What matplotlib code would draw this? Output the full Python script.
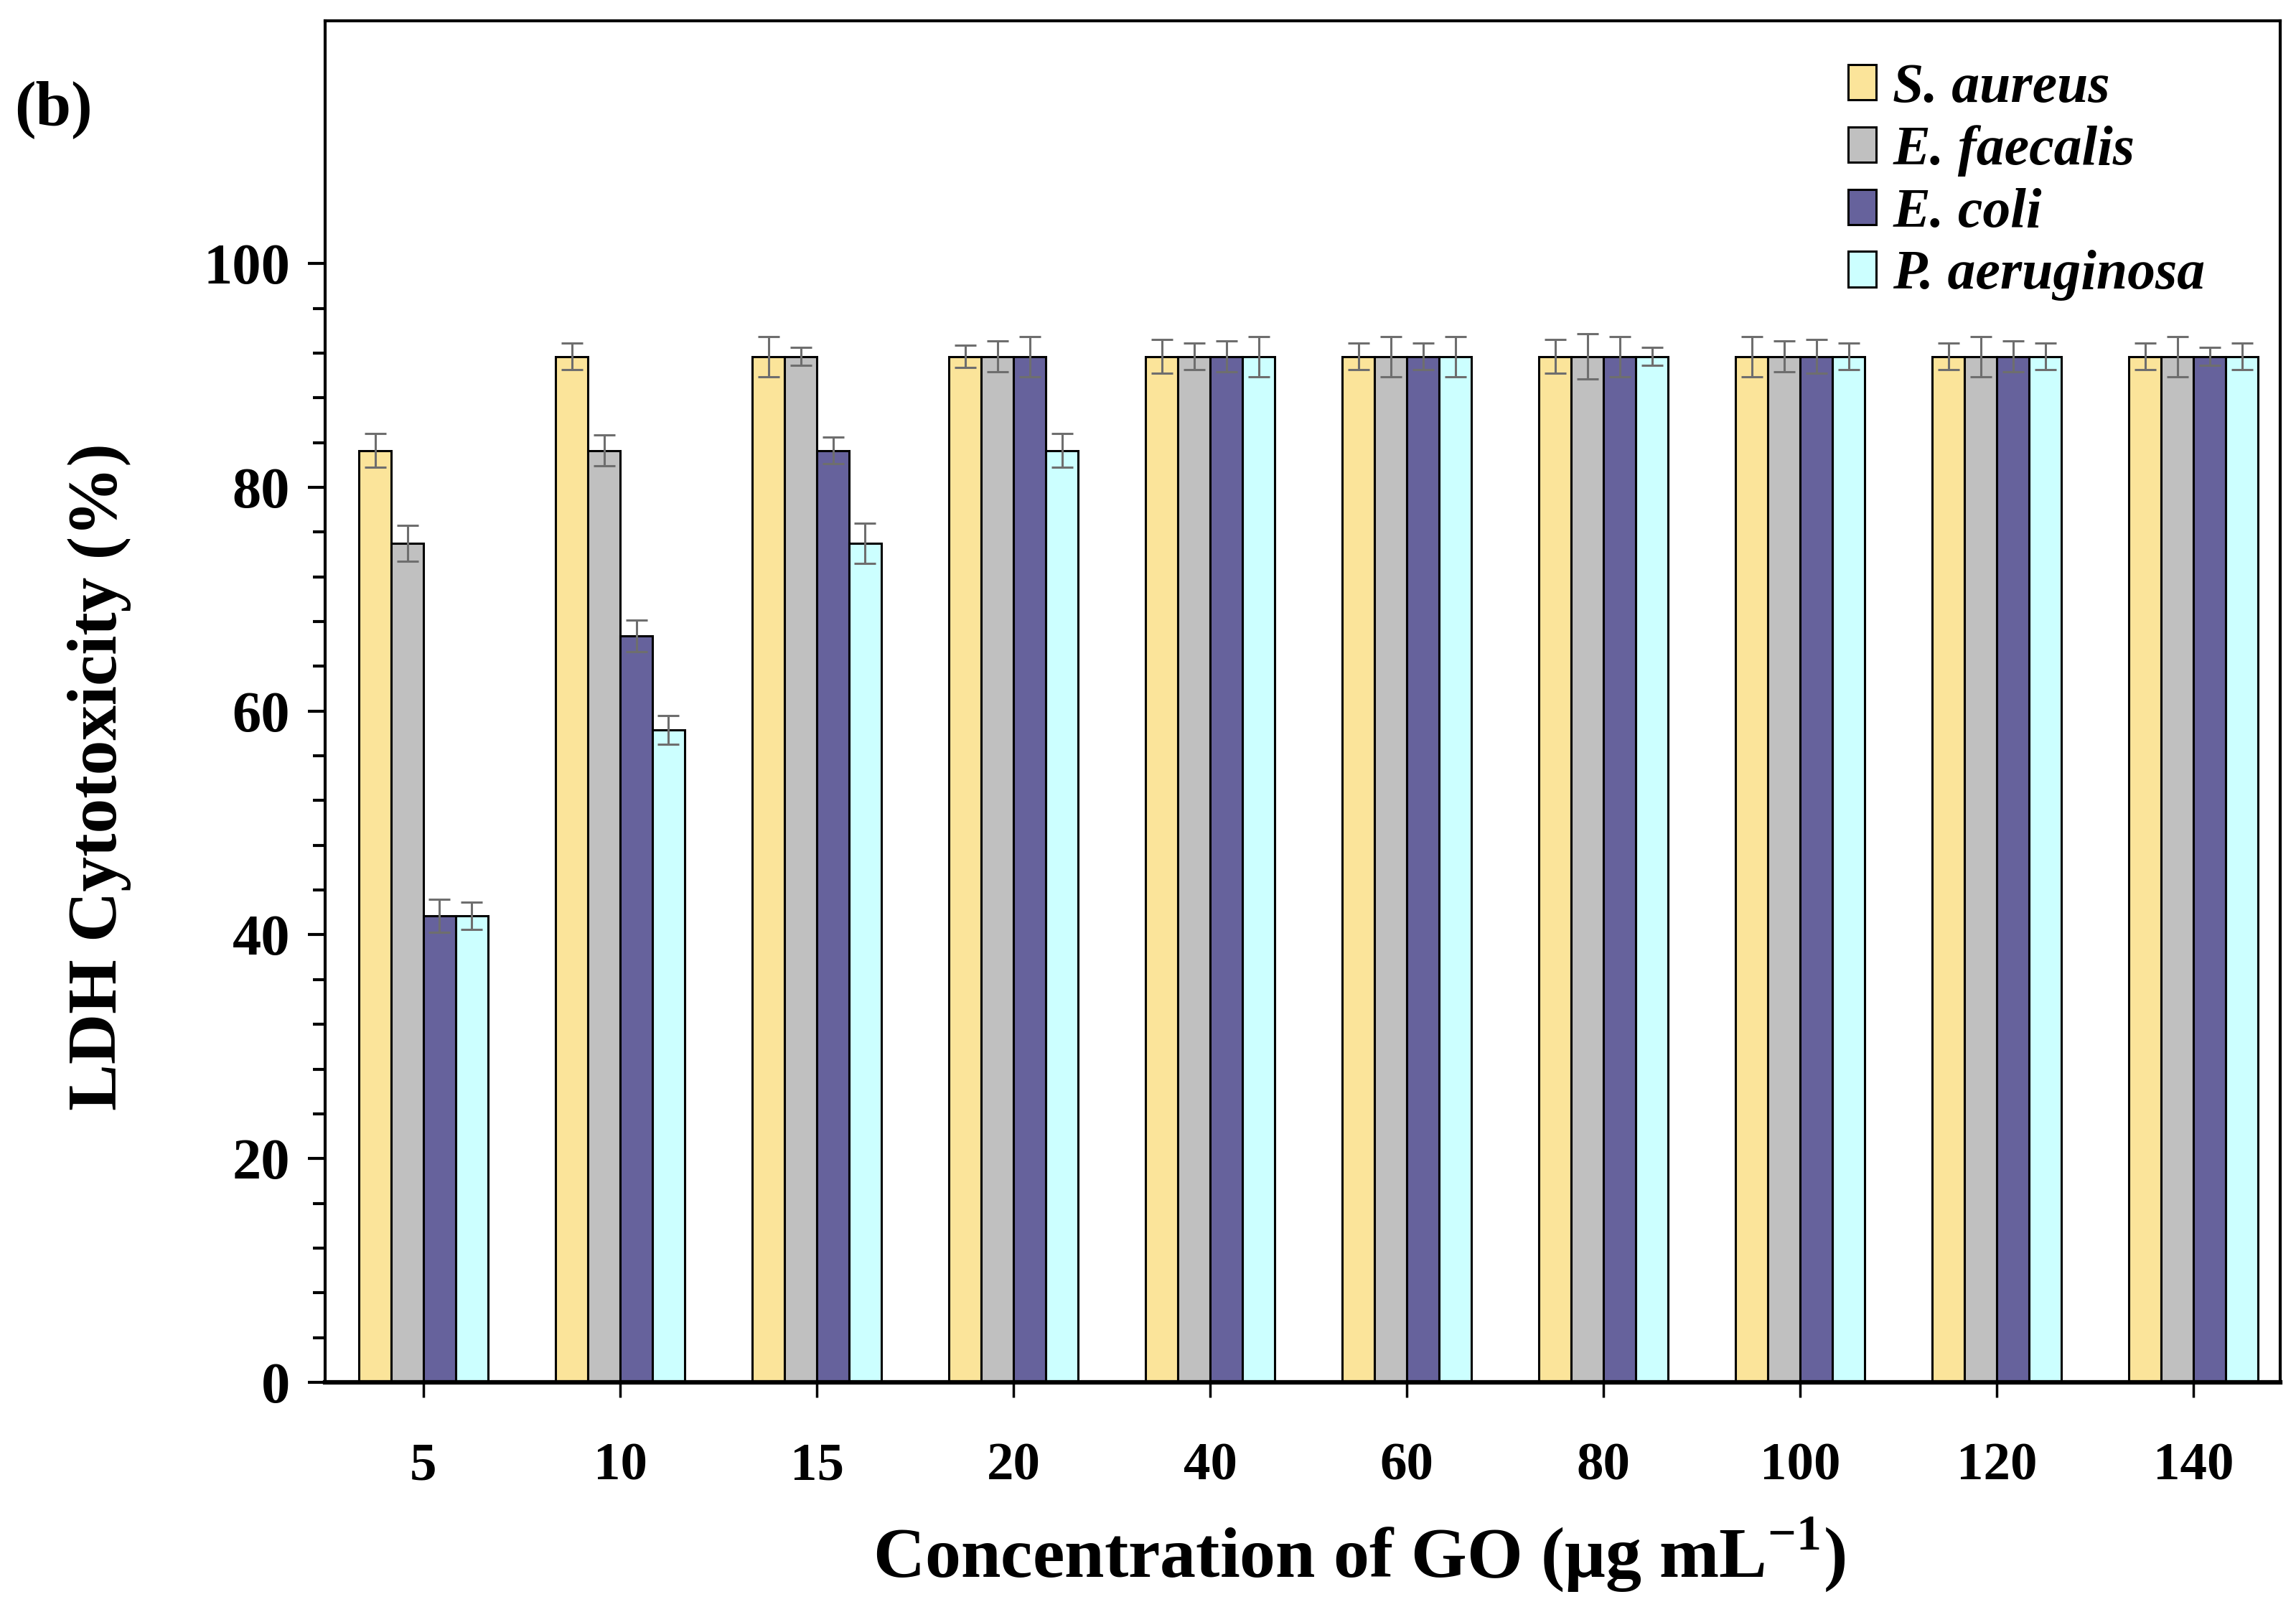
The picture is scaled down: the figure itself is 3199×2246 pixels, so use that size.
import matplotlib

matplotlib.use("Agg")

import matplotlib.pyplot as plt
import numpy as np
from matplotlib.ticker import FixedLocator

plt.rcParams["font.family"] = "Liberation Serif"
plt.rcParams["font.weight"] = "bold"
plt.rcParams["mathtext.fontset"] = "custom"
plt.rcParams["mathtext.rm"] = "Liberation Serif:bold"
plt.rcParams["mathtext.bf"] = "Liberation Serif:bold"

concentrations = ["5", "10", "15", "20", "40", "60", "80", "100", "120", "140"]
species = ["S. aureus", "E. faecalis", "E. coli", "P. aeruginosa"]

s_aureus = [83.3, 91.7, 91.7, 91.7, 91.7, 91.7, 91.7, 91.7, 91.7, 91.7]
e_faecalis = [75.0, 83.3, 91.7, 91.7, 91.7, 91.7, 91.7, 91.7, 91.7, 91.7]
e_coli = [41.7, 66.7, 83.3, 91.7, 91.7, 91.7, 91.7, 91.7, 91.7, 91.7]
p_aeruginosa = [41.7, 58.3, 75.0, 83.3, 91.7, 91.7, 91.7, 91.7, 91.7, 91.7]

s_aureus_err = [1.5, 1.2, 1.8, 1.0, 1.5, 1.2, 1.5, 1.8, 1.2, 1.2]
e_faecalis_err = [1.6, 1.4, 0.8, 1.4, 1.2, 1.8, 2.0, 1.4, 1.8, 1.8]
e_coli_err = [1.5, 1.4, 1.2, 1.8, 1.4, 1.2, 1.8, 1.5, 1.4, 0.8]
p_aeruginosa_err = [1.2, 1.3, 1.8, 1.5, 1.8, 1.8, 0.8, 1.2, 1.2, 1.2]

values = [s_aureus, e_faecalis, e_coli, p_aeruginosa]
errors = [s_aureus_err, e_faecalis_err, e_coli_err, p_aeruginosa_err]
colors = ["#FBE49A", "#C0C0C0", "#66629C", "#CCFFFF"]

fig = plt.figure(figsize=(31.99, 22.46), dpi=100)
ax = fig.add_axes([0.1416, 0.1425, 0.8515, 0.8446])

x = np.arange(len(concentrations))
width = 0.164
for i, (vals, errs, col, name) in enumerate(zip(values, errors, colors, species)):
    pos = x + (i - 1.5) * width
    ax.bar(pos, vals, width, color=col, edgecolor="black", linewidth=2.2,
           label=name, zorder=2)
    ax.errorbar(pos, vals, yerr=errs, fmt="none", ecolor="#6e6e6e",
                elinewidth=2.2, capsize=11, capthick=2.2, zorder=3)

ax.set_xlim(-0.5, 9.44)
ax.set_ylim(0, 121.7)
ax.set_xticks(x)
ax.set_xticklabels(concentrations)
ax.set_yticks([0, 20, 40, 60, 80, 100])
# minor ticks only up to 100, none in the empty band above
ax.yaxis.set_minor_locator(FixedLocator(np.arange(0, 101, 4)))

ax.tick_params(axis="x", direction="out", length=15, width=2.5, pad=45,
               labelsize=54)
ax.tick_params(axis="y", which="major", direction="out", length=17, width=3,
               pad=18, labelsize=58)
ax.tick_params(axis="y", which="minor", direction="out", length=12, width=3)
for lab in ax.get_xticklabels() + ax.get_yticklabels():
    lab.set_fontweight("bold")

for side in ["left", "right", "top"]:
    ax.spines[side].set_linewidth(3)
ax.spines["bottom"].set_linewidth(4.5)

ax.set_ylabel("LDH Cytotoxicity (%)", fontsize=70, fontweight="bold")
ax.yaxis.set_label_coords(-0.099, 0.445)
ax.set_xlabel(r"Concentration of GO (μg mL$^{\mathbf{-1}}$)", fontsize=72,
              fontweight="bold")
ax.xaxis.set_label_coords(0.529, -0.098)

leg = ax.legend(loc="upper left", bbox_to_anchor=(0.779, 0.969), frameon=False,
                prop={"family": "Liberation Serif", "weight": "bold",
                      "style": "italic", "size": 56},
                handlelength=0.5, handleheight=0.6, handletextpad=0.3,
                labelspacing=0.2, borderpad=0, borderaxespad=0)

fig.text(20 / 3199, 1 - 153 / 2246, "(b)", fontsize=64, fontweight="bold",
         va="center", ha="left")

fig.savefig("out.png", dpi=100)
plt.close(fig)
